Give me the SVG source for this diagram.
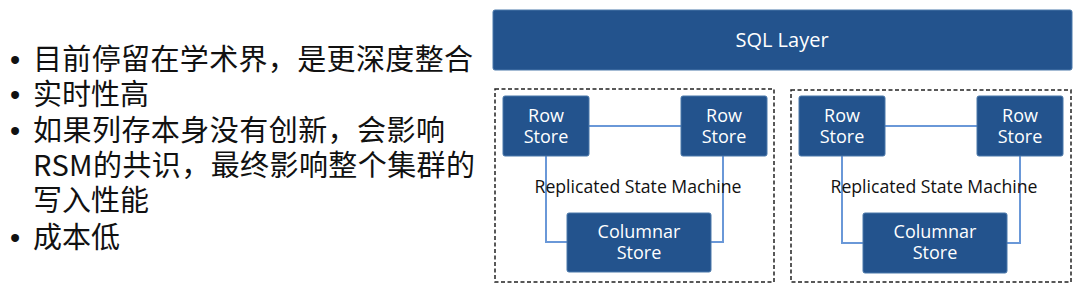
<svg xmlns="http://www.w3.org/2000/svg" width="1080" height="290" viewBox="0 0 1080 290">
<style>
.bt{font-family:"Noto Sans CJK SC","Noto Sans",sans-serif;font-size:29px;fill:#111}
.dot{font-family:"Liberation Sans",Arial,sans-serif;font-size:29px;fill:#111}
.box{fill:#23538d;stroke:#4a78aa;stroke-width:1}
.lbl{font-family:"Open Sans","Noto Sans","Noto Sans CJK SC",sans-serif;font-size:18px;fill:#fff;text-anchor:middle}
.rsm{font-family:"Open Sans","Noto Sans",sans-serif;font-size:18px;fill:#111;text-anchor:middle}
.dash{fill:none;stroke:#222;stroke-width:1.5;stroke-dasharray:4 2.5}
.ln{fill:none;stroke:#6a98d8;stroke-width:2}
</style>
<rect width="1080" height="290" fill="#fff"/>
<g id="bullets">
<text class="dot" x="10" y="70">•</text><text class="bt" x="33" y="70" textLength="440" lengthAdjust="spacing">目前停留在学术界，是更深度整合</text>
<text class="dot" x="10" y="105">•</text><text class="bt" x="33" y="105">实时性高</text>
<text class="dot" x="10" y="141">•</text><text class="bt" x="33" y="141" textLength="412" lengthAdjust="spacing">如果列存本身没有创新，会影响</text>
<text class="bt" x="33" y="176" textLength="442" lengthAdjust="spacing">RSM的共识，最终影响整个集群的</text>
<text class="bt" x="33" y="211">写入性能</text>
<text class="dot" x="10" y="248">•</text><text class="bt" x="33" y="248">成本低</text>
</g>
<g id="sql-layer">
<rect class="box" x="493" y="10" width="579" height="60" rx="2"/>
<text class="lbl" x="782" y="47" style="font-size:20px">SQL Layer</text>
</g>
<g id="connectors">
<path class="ln" d="M589 126H681"/>
<path class="ln" d="M546 156V242H567"/>
<path class="ln" d="M723 156V242H711"/>
<path class="ln" d="M885 126H977"/>
<path class="ln" d="M842 156V243H863"/>
<path class="ln" d="M1020 156V243H1007"/>
</g>
<g id="cluster-1">
<rect class="dash" x="495" y="89" width="279" height="193"/>
<text class="rsm" x="638" y="193" textLength="207" lengthAdjust="spacingAndGlyphs">Replicated State Machine</text>
</g>
<g id="cluster-2">
<rect class="dash" x="791" y="90" width="280" height="192"/>
<text class="rsm" x="934" y="193" textLength="207" lengthAdjust="spacingAndGlyphs">Replicated State Machine</text>
</g>
<g id="row-store-1a"><rect class="box" x="503" y="96" width="86" height="60" rx="2"/><text class="lbl" x="546" y="122">Row</text><text class="lbl" x="546" y="143">Store</text></g>
<g id="row-store-1b"><rect class="box" x="681" y="96" width="86" height="60" rx="2"/><text class="lbl" x="724" y="122">Row</text><text class="lbl" x="724" y="143">Store</text></g>
<g id="columnar-store-1"><rect class="box" x="567" y="213" width="144" height="59" rx="2"/><text class="lbl" x="639" y="238">Columnar</text><text class="lbl" x="639" y="259">Store</text></g>
<g id="row-store-2a"><rect class="box" x="799" y="96" width="86" height="60" rx="2"/><text class="lbl" x="842" y="122">Row</text><text class="lbl" x="842" y="143">Store</text></g>
<g id="row-store-2b"><rect class="box" x="977" y="96" width="86" height="60" rx="2"/><text class="lbl" x="1020" y="122">Row</text><text class="lbl" x="1020" y="143">Store</text></g>
<g id="columnar-store-2"><rect class="box" x="863" y="213" width="144" height="60" rx="2"/><text class="lbl" x="935" y="238">Columnar</text><text class="lbl" x="935" y="259">Store</text></g>
</svg>
